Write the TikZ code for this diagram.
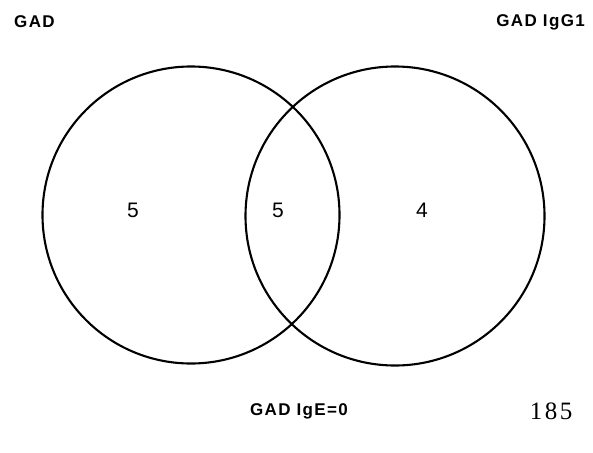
\documentclass[tikz,border=0pt]{standalone}
\usepackage{fontspec}
\setmainfont{Liberation Serif}
\setsansfont{Liberation Sans}
\begin{document}
\begin{tikzpicture}[x=1pt,y=-1pt,
  setcircle/.style={draw=black,line width=2.1pt},
  setlabel/.style={font=\sffamily\bfseries\fontsize{17}{19}\selectfont\addfontfeatures{LetterSpace=8},inner sep=0pt},
  count/.style={font=\sffamily\fontsize{21}{23}\selectfont,inner sep=0pt},
  pagenum/.style={font=\rmfamily\fontsize{25}{27}\selectfont\addfontfeatures{LetterSpace=10},inner sep=0pt}]
\useasboundingbox (0,0) rectangle (593,452);
\node[setcircle,circle,minimum size=297pt,inner sep=0pt] (A) at (191,215) {};
\node[setcircle,circle,minimum size=299pt,inner sep=0pt] (B) at (395,216) {};
\node[setlabel,anchor=west] (la) at (14,22) {GAD};
\node[setlabel,anchor=east] (lb) at (585,22) {GAD IgG1};
\node[setlabel] (lc) at (299,411) {GAD IgE=0};
\node[count] (n1) at (133,210) {5};
\node[count] (n2) at (278,210) {5};
\node[count] (n3) at (422,210) {4};
\node[pagenum] (pg) at (551,411) {185};
\end{tikzpicture}
\end{document}
